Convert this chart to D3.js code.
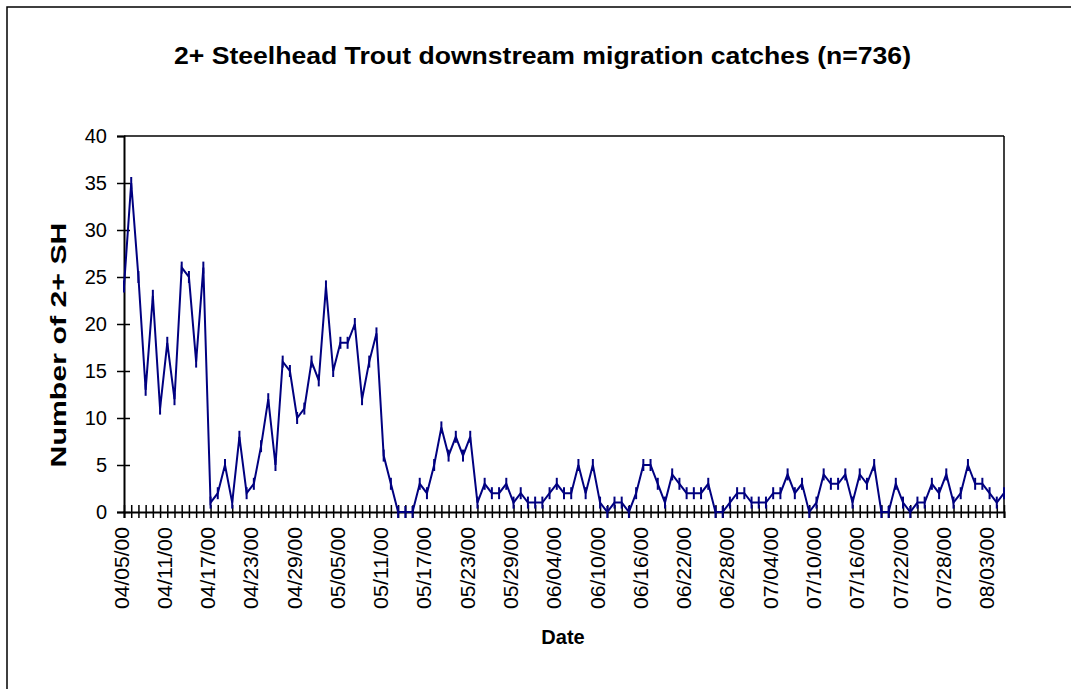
<!DOCTYPE html>
<html>
<head>
<meta charset="utf-8">
<script src="https://cdn.jsdelivr.net/npm/d3@7"></script>
<style>
  html, body { margin: 0; padding: 0; background: #fff; overflow: hidden; }
  svg { display: block; overflow: hidden; font-family: "Liberation Sans", Arial, sans-serif; }
</style>
</head>
<body>
<svg id="chart" width="1071" height="689"></svg>
<script>
// ---- data ----
const startDate = "2000-04-05";
const catches = [
  24,35,25,13,23,11,18,12,26,25,16,26,
  1,2,5,1,8,2,3,7,12,5,
  16,15,10,11,16,14,24,15,18,18,20,12,16,19,6,
  3,0,0,0,
  3,2,5,9,6,8,6,8,
  1,3,2,2,3,1,2,1,1,1,2,3,2,2,
  5,2,5,1,0,1,1,0,2,5,5,3,1,4,3,2,2,2,3,
  0,0,1,2,2,1,1,1,2,2,4,2,3,0,1,4,3,3,4,1,4,3,5,
  0,0,3,1,0,1,1,3,2,4,1,2,5,3,3,2,1,2
];
const xTickLabels = ["04/05/00","04/11/00","04/17/00","04/23/00","04/29/00","05/05/00","05/11/00",
  "05/17/00","05/23/00","05/29/00","06/04/00","06/10/00","06/16/00","06/22/00","06/28/00",
  "07/04/00","07/10/00","07/16/00","07/22/00","07/28/00","08/03/00"];
const yTicks = [0,5,10,15,20,25,30,35,40];
const titleText = "2+ Steelhead Trout downstream migration catches (n=736)";
const yLabelText = "Number of 2+ SH";
const xLabelText = "Date";

// categories: consecutive days
const fmt = d3.timeFormat("%m/%d/%y");
const parse = d3.timeParse("%Y-%m-%d");
const d0 = parse(startDate);
const categories = catches.map((_, i) => fmt(d3.timeDay.offset(d0, i)));

// ---- layout ----
const L = 124, R = 1004, T = 136, B = 512;
const navy = "#000080";

const svg = d3.select("#chart");

// outer border (right/bottom edges fall outside of the picture)
svg.append("path").attr("d", "M7,689 L7,7 L1071,7")
  .attr("fill", "none").attr("stroke", "#000").attr("stroke-width", 1.5);

const x = d3.scalePoint().domain(categories).range([L, R]);
const y = d3.scaleLinear().domain([0, 40]).range([B, T]);

// plot frame (top and right)
svg.append("line").attr("x1", L).attr("x2", R).attr("y1", T).attr("y2", T)
  .attr("stroke", "#000").attr("stroke-width", 1.5);
svg.append("line").attr("x1", R).attr("x2", R).attr("y1", T).attr("y2", B)
  .attr("stroke", "#000").attr("stroke-width", 1.5);

// y axis
const yAxis = svg.append("g").attr("transform", `translate(${L},0)`)
  .call(d3.axisLeft(y).tickValues(yTicks).tickSize(7).tickPadding(10));
yAxis.select(".domain").attr("stroke", "#000").attr("stroke-width", 2);
yAxis.selectAll(".tick line").attr("stroke", "#000").attr("stroke-width", 1.5)
  .attr("x1", d => d === 40 ? 0 : 6);
yAxis.selectAll(".tick text").attr("font-size", 20).attr("fill", "#000")
  .attr("font-family", "Liberation Sans, Arial, sans-serif")
  .attr("x", -17).attr("dy", "0.34em");

// x axis
const xAxis = svg.append("g").attr("transform", `translate(0,${B})`)
  .call(d3.axisBottom(x).tickSize(6).tickFormat(""));
xAxis.select(".domain").attr("stroke", "#000").attr("stroke-width", 2);
xAxis.selectAll(".tick line").attr("stroke", "#000").attr("stroke-width", 1.5)
  .attr("y1", -7).attr("y2", 6);

// x tick labels (every 6th day)
const labelled = categories.filter(c => xTickLabels.includes(c));
svg.append("g").selectAll("text").data(labelled).join("text")
  .attr("transform", d => `translate(${x(d) - 2.5},527) rotate(-90)`)
  .attr("text-anchor", "end")
  .attr("dominant-baseline", "central")
  .attr("font-size", 20)
  .attr("textLength", 82).attr("lengthAdjust", "spacingAndGlyphs")
  .text(d => d);

// series line
const line = d3.line().x((d, i) => x(categories[i])).y(d => y(d));
svg.append("path").datum(catches).attr("d", line)
  .attr("fill", "none").attr("stroke", navy).attr("stroke-width", 2)
  .attr("stroke-linejoin", "miter");

// markers (short vertical dashes)
svg.append("g").selectAll("line").data(catches).join("line")
  .attr("x1", (d, i) => x(categories[i])).attr("x2", (d, i) => x(categories[i]))
  .attr("y1", d => y(d) - 6).attr("y2", d => y(d) + 6)
  .attr("stroke", navy).attr("stroke-width", 2);

// title
svg.append("text").attr("x", 174).attr("y", 64)
  .attr("font-size", 24).attr("font-weight", "bold")
  .attr("textLength", 737).attr("lengthAdjust", "spacingAndGlyphs")
  .text(titleText);

// y label
svg.append("text").attr("transform", "translate(66,345) rotate(-90)")
  .attr("text-anchor", "middle").attr("font-size", 22).attr("font-weight", "bold")
  .attr("textLength", 245).attr("lengthAdjust", "spacingAndGlyphs")
  .text(yLabelText);

// x label
svg.append("text").attr("x", 563).attr("y", 644)
  .attr("text-anchor", "middle").attr("font-size", 20).attr("font-weight", "bold")
  .text(xLabelText);
</script>
</body>
</html>
